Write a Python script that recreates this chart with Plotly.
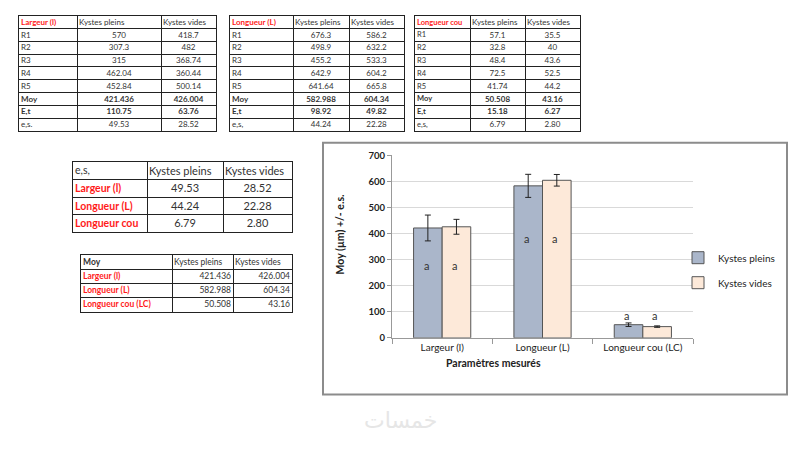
import plotly.graph_objects as go

W, H = 800, 460
FONT = "Lato"
RED = "#ff1a1a"
TXT = "#333333"

# ---------------- data ----------------
row_labels = ["R1", "R2", "R3", "R4", "R5", "Moy", "E,t", "e,s,"]
bold_rows = ["Moy", "E,t"]
col_headers = ["Kystes pleins", "Kystes vides"]

largeur_pleins = ["570", "307.3", "315", "462.04", "452.84", "421.436", "110.75", "49.53"]
largeur_vides = ["418.7", "482", "368.74", "360.44", "500.14", "426.004", "63.76", "28.52"]
longueur_pleins = ["676.3", "498.9", "455.2", "642.9", "641.64", "582.988", "98.92", "44.24"]
longueur_vides = ["586.2", "632.2", "533.3", "604.2", "665.8", "604.34", "49.82", "22.28"]
lc_pleins = ["57.1", "32.8", "48.4", "72.5", "41.74", "50.508", "15.18", "6.79"]
lc_vides = ["35.5", "40", "43.6", "52.5", "44.2", "43.16", "6.27", "2.80"]

categories = ["Largeur (l)", "Longueur (L)", "Longueur cou (LC)"]
cat_short = ["Largeur (l)", "Longueur (L)", "Longueur cou"]
moy_pleins = [421.436, 582.988, 50.508]
moy_vides = [426.004, 604.34, 43.16]
es_pleins = [49.53, 44.24, 6.79]
es_vides = [28.52, 22.28, 2.80]
es_pleins_txt = ["49.53", "44.24", "6.79"]
es_vides_txt = ["28.52", "22.28", "2.80"]
moy_pleins_txt = ["421.436", "582.988", "50.508"]
moy_vides_txt = ["426.004", "604.34", "43.16"]

letters_pleins = ["a", "a", "a"]
letters_vides = ["a", "a", "a"]
letter_y = [277, 382, 86]

# ---------------- helpers ----------------
def px(x0, x1):
    return [x0 / W, x1 / W]

def py(y0, y1):
    return [1 - y1 / H, 1 - y0 / H]

def b(s):
    return "<b>" + s + "</b>"

fig = go.Figure()
layout_axes = {}


def make_table(k, dom_x, dom_y, widths, columns, aligns, colors, sizes):
    """columns: list of columns, each a list of cell strings (header first)."""
    nrows = len(columns[0])
    total = sum(widths)
    bounds = [0]
    for w in widths:
        bounds.append(bounds[-1] + w)
    xa, ya = "x%d" % k, "y%d" % k
    layout_axes["xaxis%d" % k] = dict(
        domain=dom_x, range=[0, total], anchor=ya, tickvals=bounds,
        showticklabels=False, ticks="", showgrid=True, gridcolor="#222",
        gridwidth=1, zeroline=False, showline=True, mirror=True,
        linecolor="#222", linewidth=1, fixedrange=True)
    layout_axes["yaxis%d" % k] = dict(
        domain=dom_y, range=[nrows, 0], anchor=xa, tickvals=list(range(nrows + 1)),
        showticklabels=False, ticks="", showgrid=True, gridcolor="#222",
        gridwidth=1, zeroline=False, showline=True, mirror=True,
        linecolor="#222", linewidth=1, fixedrange=True)
    for ci, col in enumerate(columns):
        # header cell: always left aligned
        fig.add_trace(go.Scatter(
            x=[bounds[ci] + 2], y=[0.55], text=[col[0]], mode="text",
            textposition="middle right",
            textfont=dict(family=FONT, size=sizes[ci], color=colors[ci][0]),
            xaxis=xa, yaxis=ya, showlegend=False, hoverinfo="skip",
            cliponaxis=False))
        al = aligns[ci]
        if al == "left":
            xpos, tp = bounds[ci] + 2, "middle right"
        elif al == "right":
            xpos, tp = bounds[ci + 1] - 2, "middle left"
        else:
            xpos, tp = (bounds[ci] + bounds[ci + 1]) / 2, "middle center"
        body = col[1:]
        fig.add_trace(go.Scatter(
            x=[xpos] * len(body), y=[r + 1.55 for r in range(len(body))],
            text=body, mode="text", textposition=tp,
            textfont=dict(family=FONT, size=sizes[ci], color=colors[ci][1:]),
            xaxis=xa, yaxis=ya, showlegend=False, hoverinfo="skip",
            cliponaxis=False))


def detail_columns(title, c1, c2, labels):
    col0 = [b(title)] + [b(r) if r in bold_rows else r for r in labels]
    col1 = [col_headers[0]] + [b(v) if r in bold_rows else v for v, r in zip(c1, labels)]
    col2 = [col_headers[1]] + [b(v) if r in bold_rows else v for v, r in zip(c2, labels)]
    n = len(col0)
    colors = [[RED] + [TXT] * (n - 1), [TXT] * n, [TXT] * n]
    return [col0, col1, col2], colors


cols, cl = detail_columns("Largeur (l)", largeur_pleins, largeur_vides,
                          row_labels[:7] + ["e,s."])
make_table(2, px(19, 216), py(10, 128), [58, 84, 55], cols,
           ["left", "center", "center"], cl, [8, 8, 8])

cols, cl = detail_columns("Longueur (L)", longueur_pleins, longueur_vides, row_labels)
make_table(3, px(230, 404), py(10, 128), [63, 56, 55], cols,
           ["left", "center", "center"], cl, [8, 8, 8])

cols, cl = detail_columns("Longueur cou", lc_pleins, lc_vides, row_labels)
make_table(4, px(415, 580), py(10, 128), [55, 55, 55], cols,
           ["left", "center", "center"], cl, [7.5, 8, 8])

# e,s, summary table
cols = [["e,s,"] + [b(c) for c in cat_short],
        [col_headers[0]] + es_pleins_txt,
        [col_headers[1]] + es_vides_txt]
cl = [[TXT] + [RED] * 3, [TXT] * 4, [TXT] * 4]
make_table(5, px(73, 292), py(160, 232), [74, 76, 69], cols,
           ["left", "center", "center"], cl, [10.5, 11, 11])

# Moy summary table
cols = [[b("Moy")] + [b(c) for c in categories],
        [col_headers[0]] + moy_pleins_txt,
        [col_headers[1]] + moy_vides_txt]
cl = [[TXT] + [RED] * 3, [TXT] * 4, [TXT] * 4]
make_table(6, px(81, 292), py(255, 313), [91, 61, 59], cols,
           ["left", "right", "right"], cl, [8.5, 8.5, 8.5])

# ---------------- bar chart ----------------
fig.add_trace(go.Bar(
    name="Kystes pleins", x=categories, y=moy_pleins,
    marker=dict(color="#aab6ca", line=dict(color="#555", width=1)),
    error_y=dict(type="data", array=es_pleins, color="#222", thickness=1, width=3),
    legendgroup="p",
))
fig.add_trace(go.Bar(
    name="Kystes vides", x=categories, y=moy_vides,
    marker=dict(color="#fde9d9", line=dict(color="#555", width=1)),
    error_y=dict(type="data", array=es_vides, color="#222", thickness=1, width=3),
    legendgroup="v",
))

annotations = []
for i, c in enumerate(categories):
    annotations.append(dict(x=c, y=letter_y[i], xref="x", yref="y", xshift=-16,
                            text=letters_pleins[i], showarrow=False,
                            font=dict(family=FONT, size=11, color="#333")))
    annotations.append(dict(x=c, y=letter_y[i], xref="x", yref="y", xshift=12,
                            text=letters_vides[i], showarrow=False,
                            font=dict(family=FONT, size=11, color="#333")))

annotations.append(dict(x=340 / W, y=1 - 234 / H, xref="paper", yref="paper",
                        text="<b>Moy (µm) +/- e.s.</b>", textangle=-90, showarrow=False,
                        font=dict(family=FONT, size=10.5, color="#222")))
annotations.append(dict(x=543 / W, y=1 - 374 / H, xref="paper", yref="paper",
                        text="<b>Paramètres mesurés</b>", showarrow=False,
                        font=dict(family=FONT, size=10.5, color="#222")))
annotations.append(dict(x=400 / W, y=1 - 440 / H, xref="paper", yref="paper",
                        text="خمسات", showarrow=False,
                        font=dict(family="DejaVu Sans", size=22, color="#e6e6e6")))

fig.update_layout(
    width=W, height=H,
    margin=dict(l=0, r=0, t=0, b=0),
    paper_bgcolor="white",
    plot_bgcolor="white",
    barmode="group",
    bargap=0.43,
    bargroupgap=0,
    font=dict(family=FONT, size=10, color="#222"),
    xaxis=dict(domain=px(392, 693), showline=True, linecolor="#999", linewidth=1,
               ticks="outside", tickson="boundaries", ticklen=5, tickcolor="#999",
               tickfont=dict(family=FONT, size=10, color="#222"), fixedrange=True),
    yaxis=dict(domain=py(153, 340), range=[0, 700], dtick=100, showline=True,
               linecolor="#999", linewidth=1, ticks="outside", ticklen=4, tickcolor="#999",
               gridcolor="#d9d9d9", zeroline=False, fixedrange=True,
               tickfont=dict(family=FONT, size=9.5, color="#222", weight="bold")),
    showlegend=True,
    legend=dict(x=678 / W, y=1 - 243 / H, xanchor="left", yanchor="top",
                traceorder="grouped", tracegroupgap=6,
                font=dict(family=FONT, size=10, color="#222"),
                itemwidth=30, bgcolor="rgba(0,0,0,0)"),
    annotations=annotations,
    shapes=[dict(type="rect", xref="paper", yref="paper",
                 x0=323 / W, x1=787 / W, y0=1 - 398 / H, y1=1 - 140 / H,
                 line=dict(color="#8c8c8c", width=2))],
    **layout_axes,
)

fig.write_html("out.html", config={"displayModeBar": False},
               post_script="document.body.style.margin='0px';")
